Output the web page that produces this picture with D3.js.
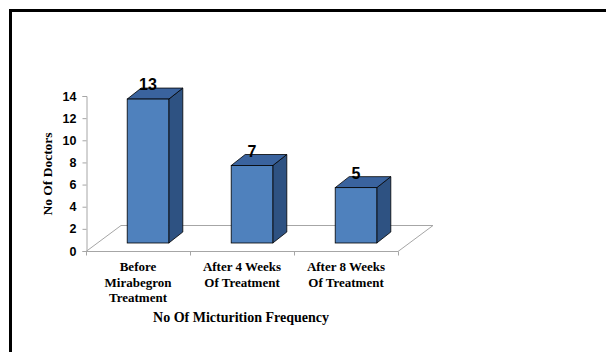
<!DOCTYPE html>
<html>
<head>
<meta charset="utf-8">
<script src="https://cdn.jsdelivr.net/npm/d3@7"></script>
<style>
  html, body { margin: 0; padding: 0; background: #fff; }
  svg { display: block; }
</style>
</head>
<body>
<svg id="chart" width="606" height="352"></svg>
<script>
// Number of doctors by micturition-frequency stage
const categories = [
  ["Before", "Mirabegron", "Treatment"],
  ["After 4 Weeks", "Of Treatment"],
  ["After 8 Weeks", "Of Treatment"]
];
const values = [13, 7, 5];
const yTicks = [0, 2, 4, 6, 8, 10, 12, 14];
const yTitle = "No Of Doctors";
const xTitle = "No Of Micturition Frequency";

(function drawChart() {
const svg = d3.select("#chart");

// Outer frame: thick black edge along the top and left
svg.append("path")
  .attr("d", "M10.5,352 V10.5 H606")
  .attr("fill", "none")
  .attr("stroke", "#000")
  .attr("stroke-width", 3);

const plotLeft = 86, plotRight = 398, plotBottom = 251, plotTop = 96;
const x = d3.scaleBand().domain(d3.range(values.length)).range([plotLeft, plotRight]).paddingInner(0).paddingOuter(0);
const y = d3.scaleLinear().domain([0, 14]).range([plotBottom, plotTop]);

// Floor depth (3D offset) and bar depth
const floorDx = 35, floorDy = -26;
const barShiftX = 10, barShiftY = -8;
const barDx = 14, barDy = -11;
const barW = x.bandwidth() * 0.4;

// Floor parallelogram
svg.append("path")
  .attr("d", `M${plotLeft},${plotBottom + 0.5} L${plotRight},${plotBottom + 0.5} L${plotRight + floorDx},${plotBottom + floorDy + 0.5} L${plotLeft + floorDx},${plotBottom + floorDy + 0.5} Z`)
  .attr("fill", "none")
  .attr("stroke", "#a6a6a6")
  .attr("stroke-width", 1);

// Y axis
const yAxis = d3.axisLeft(y).tickValues(yTicks).tickSize(4).tickPadding(6).tickFormat(d3.format("d"));
const gy = svg.append("g").attr("transform", `translate(${plotLeft + 0.5},0)`).call(yAxis);
gy.select(".domain").attr("stroke", "#a6a6a6");
gy.selectAll(".tick line").attr("stroke", "#a6a6a6");
gy.selectAll(".tick text")
  .attr("font-family", "Liberation Sans, Arial, sans-serif")
  .attr("font-weight", "bold")
  .attr("font-size", 12.5)
  .attr("fill", "#000");

// X axis baseline and category ticks
const gx = svg.append("g").attr("transform", `translate(0,${plotBottom + 0.5})`);
gx.append("line").attr("x1", plotLeft).attr("x2", plotRight).attr("stroke", "#a6a6a6");
const tickXs = d3.range(values.length + 1).map(i => i < values.length ? x(i) : x(values.length - 1) + x.bandwidth());
gx.selectAll("line.tk").data(tickXs).join("line")
  .attr("class", "tk")
  .attr("x1", d => Math.round(d) + 0.5).attr("x2", d => Math.round(d) + 0.5)
  .attr("y1", 0).attr("y2", 4)
  .attr("stroke", "#a6a6a6");

// Bars
const bars = svg.append("g");
values.forEach((v, i) => {
  const x0 = x(i) + (x.bandwidth() - barW) / 2 + barShiftX;
  const x1 = x0 + barW;
  const yb = y(0) + barShiftY;
  const yt = y(v) + barShiftY;
  // side
  bars.append("path")
    .attr("d", `M${x1},${yt} L${x1 + barDx},${yt + barDy} L${x1 + barDx},${yb + barDy} L${x1},${yb} Z`)
    .attr("fill", "#2E5282").attr("stroke", "#000").attr("stroke-width", 0.8);
  // top
  bars.append("path")
    .attr("d", `M${x0},${yt} L${x1},${yt} L${x1 + barDx},${yt + barDy} L${x0 + barDx},${yt + barDy} Z`)
    .attr("fill", "#3A639E").attr("stroke", "#000").attr("stroke-width", 0.8);
  // front
  bars.append("rect")
    .attr("x", x0).attr("y", yt).attr("width", barW).attr("height", yb - yt)
    .attr("fill", "#4F81BD").attr("stroke", "#000").attr("stroke-width", 0.8);
  // value label
  bars.append("text")
    .attr("x", x0 + barW / 2).attr("y", yt - 9)
    .attr("text-anchor", "middle")
    .attr("font-family", "Liberation Sans, Arial, sans-serif")
    .attr("font-weight", "bold")
    .attr("font-size", 16)
    .attr("fill", "#000")
    .text(v);
});

// Category labels
const catG = svg.append("g")
  .attr("font-family", "Liberation Serif, Times New Roman, serif")
  .attr("font-weight", "bold")
  .attr("font-size", 13)
  .attr("fill", "#000");
categories.forEach((lines, i) => {
  const cx = x(i) + x.bandwidth() / 2;
  const t = catG.append("text")
    .attr("x", cx)
    .attr("y", 271)
    .attr("text-anchor", "middle");
  lines.forEach((ln, j) => {
    t.append("tspan").attr("x", cx).attr("dy", j === 0 ? 0 : 15.5).text(ln);
  });
});

// Axis titles
svg.append("text")
  .attr("x", (plotLeft + plotRight) / 2 - 1).attr("y", 322)
  .attr("text-anchor", "middle")
  .attr("font-family", "Liberation Serif, Times New Roman, serif")
  .attr("font-weight", "bold")
  .attr("font-size", 14)
  .text(xTitle);

svg.append("text")
  .attr("transform", "translate(52,174) rotate(-90)")
  .attr("text-anchor", "middle")
  .attr("font-family", "Liberation Serif, Times New Roman, serif")
  .attr("font-weight", "bold")
  .attr("font-size", 13.5)
  .text(yTitle);
})();
</script>
</body>
</html>
